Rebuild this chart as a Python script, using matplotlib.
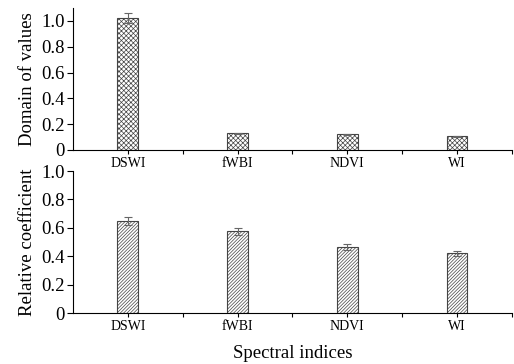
import numpy as np
import matplotlib.pyplot as plt
from matplotlib.ticker import FixedLocator

indices = ['DSWI', 'fWBI', 'NDVI', 'WI']
domain_vals = [1.02, 0.13, 0.12, 0.105]
domain_err = [0.04, 0.005, 0.004, 0.004]
rel_coef = [0.65, 0.575, 0.465, 0.42]
rel_err = [0.03, 0.025, 0.022, 0.015]

plt.rcParams['font.family'] = ['Liberation Serif', 'DejaVu Serif']
plt.rcParams['hatch.color'] = '#7a7a7a'
plt.rcParams['hatch.linewidth'] = 0.5

fig = plt.figure(figsize=(5.14, 3.64), dpi=100)
ax1 = fig.add_axes([0.142, 0.588, 0.854, 0.39])
ax2 = fig.add_axes([0.142, 0.140, 0.854, 0.39])

x = np.arange(len(indices))

def style(ax, vals, errs, hatch, ylabel, ytop):
    ax.bar(x, vals, width=0.19, color='white', edgecolor='#444444',
           linewidth=0.8, hatch=hatch, zorder=2)
    ax.errorbar(x, vals, yerr=errs, fmt='none', ecolor='#666666',
                elinewidth=0.8, capsize=3, capthick=0.8, zorder=3)
    ax.set_xlim(-0.5, 3.5)
    ax.set_ylim(0, ytop)
    ax.spines['top'].set_visible(False)
    ax.spines['right'].set_visible(False)
    ax.spines['left'].set_bounds(0, ytop)
    ax.set_yticks([0, 0.2, 0.4, 0.6, 0.8, 1.0])
    ax.set_yticklabels(['0', '0.2', '0.4', '0.6', '0.8', '1.0'])
    ax.set_xticks(x)
    ax.set_xticklabels(indices)
    ax.xaxis.set_minor_locator(FixedLocator([0.5, 1.5, 2.5, 3.5]))
    ax.tick_params(axis='y', labelsize=13.5, direction='out', length=4, width=0.8, pad=2)
    ax.tick_params(axis='x', which='major', labelsize=10, direction='inout', length=6, width=0.8, pad=2)
    ax.tick_params(axis='x', which='minor', direction='out', length=3, width=0.8)
    ax.set_ylabel(ylabel, fontsize=13.5, labelpad=4)

style(ax1, domain_vals, domain_err, 'xxxxxxx', 'Domain of values', 1.1)
style(ax2, rel_coef, rel_err, '//////////', 'Relative coefficient', 1.0)
ax2.set_xlabel('Spectral indices', fontsize=13.5, labelpad=9)

fig.savefig('out.png', dpi=100)
